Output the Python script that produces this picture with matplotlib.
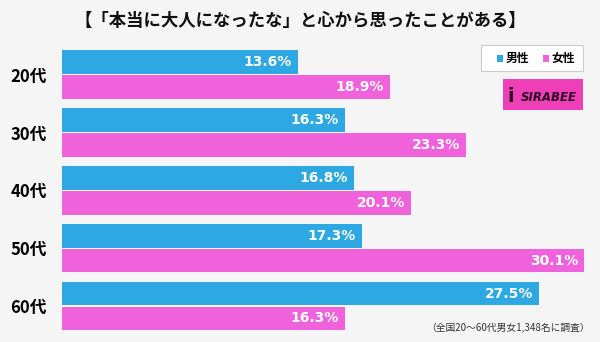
import matplotlib.pyplot as plt
from matplotlib.patches import Rectangle

plt.rcParams['font.family'] = ['Noto Sans CJK JP', 'DejaVu Sans']

ages = ["20代", "30代", "40代", "50代", "60代"]
male = [13.6, 16.3, 16.8, 17.3, 27.5]
female = [18.9, 23.3, 20.1, 30.1, 16.3]

blue = "#2ea8e2"
pink = "#f062dc"
bg = "#f5f5f5"

W, H = 600, 342
fig = plt.figure(figsize=(6, 3.42), dpi=100, facecolor=bg)

# axes placed in pixel coords
left, right, top, bottom = 62, 600, 45, 335
ax = fig.add_axes([left / W, 1 - bottom / H, (right - left) / W, (bottom - top) / H])
ax.set_facecolor(bg)
ax.set_xlim(0, 31.0)
ax.set_ylim(4.5, -0.509)

pos = list(range(len(ages)))
h = 0.41
off = 0.215
ax.barh([p - off for p in pos], male, height=h, color=blue)
ax.barh([p + off for p in pos], female, height=h, color=pink)

for p, m, f in zip(pos, male, female):
    ax.text(m - 0.35, p - off, f"{m}%", color="white", fontsize=10,
            fontweight="bold", ha="right", va="center", family="DejaVu Sans")
    ax.text(f - 0.35, p + off, f"{f}%", color="white", fontsize=10,
            fontweight="bold", ha="right", va="center", family="DejaVu Sans")

ax.set_yticks(pos)
ax.set_yticklabels(ages, fontsize=12, fontweight="bold")
ax.tick_params(axis="y", length=0, pad=11)
ax.set_xticks([])
for s in ax.spines.values():
    s.set_visible(False)

fig.text(300 / W, 1 - 21 / H, "【「本当に大人になったな」と心から思ったことがある】",
         ha="center", va="center", fontsize=12.5, fontweight="bold", color="#111111")

# legend box
fig.patches.append(Rectangle((481 / W, 1 - 71 / H), 102 / W, 26 / H,
                             transform=fig.transFigure, facecolor="white",
                             edgecolor="#cccccc", lw=0.8))
fig.patches.append(Rectangle((497 / W, 1 - 62 / H), 6 / W, 7 / H,
                             transform=fig.transFigure, facecolor=blue, lw=0))
fig.text(506 / W, 1 - 58 / H, "男性", fontsize=8.5, fontweight="bold", va="center")
fig.patches.append(Rectangle((543 / W, 1 - 62 / H), 6 / W, 7 / H,
                             transform=fig.transFigure, facecolor=pink, lw=0))
fig.text(552 / W, 1 - 58 / H, "女性", fontsize=8.5, fontweight="bold", va="center")

# logo
fig.patches.append(Rectangle((503 / W, 1 - 110 / H), 80 / W, 31 / H,
                             transform=fig.transFigure, facecolor="#ee3fb8", lw=0))
fig.text(549 / W, 1 - 98 / H, "SIRABEE", ha="center", va="center", fontsize=8.5,
         fontweight="bold", style="italic", color="#2a0a22", family="DejaVu Sans")
fig.text(511 / W, 1 - 96 / H, "i", ha="center", va="center", fontsize=14,
         fontweight="bold", color="#2a0a22", family="DejaVu Sans")

fig.text(590 / W, 1 - 328 / H, "（全国20〜60代男女1,348名に調査）", ha="right",
         va="center", fontsize=7, color="#333333")

fig.savefig("out.png", dpi=100, facecolor=bg)
